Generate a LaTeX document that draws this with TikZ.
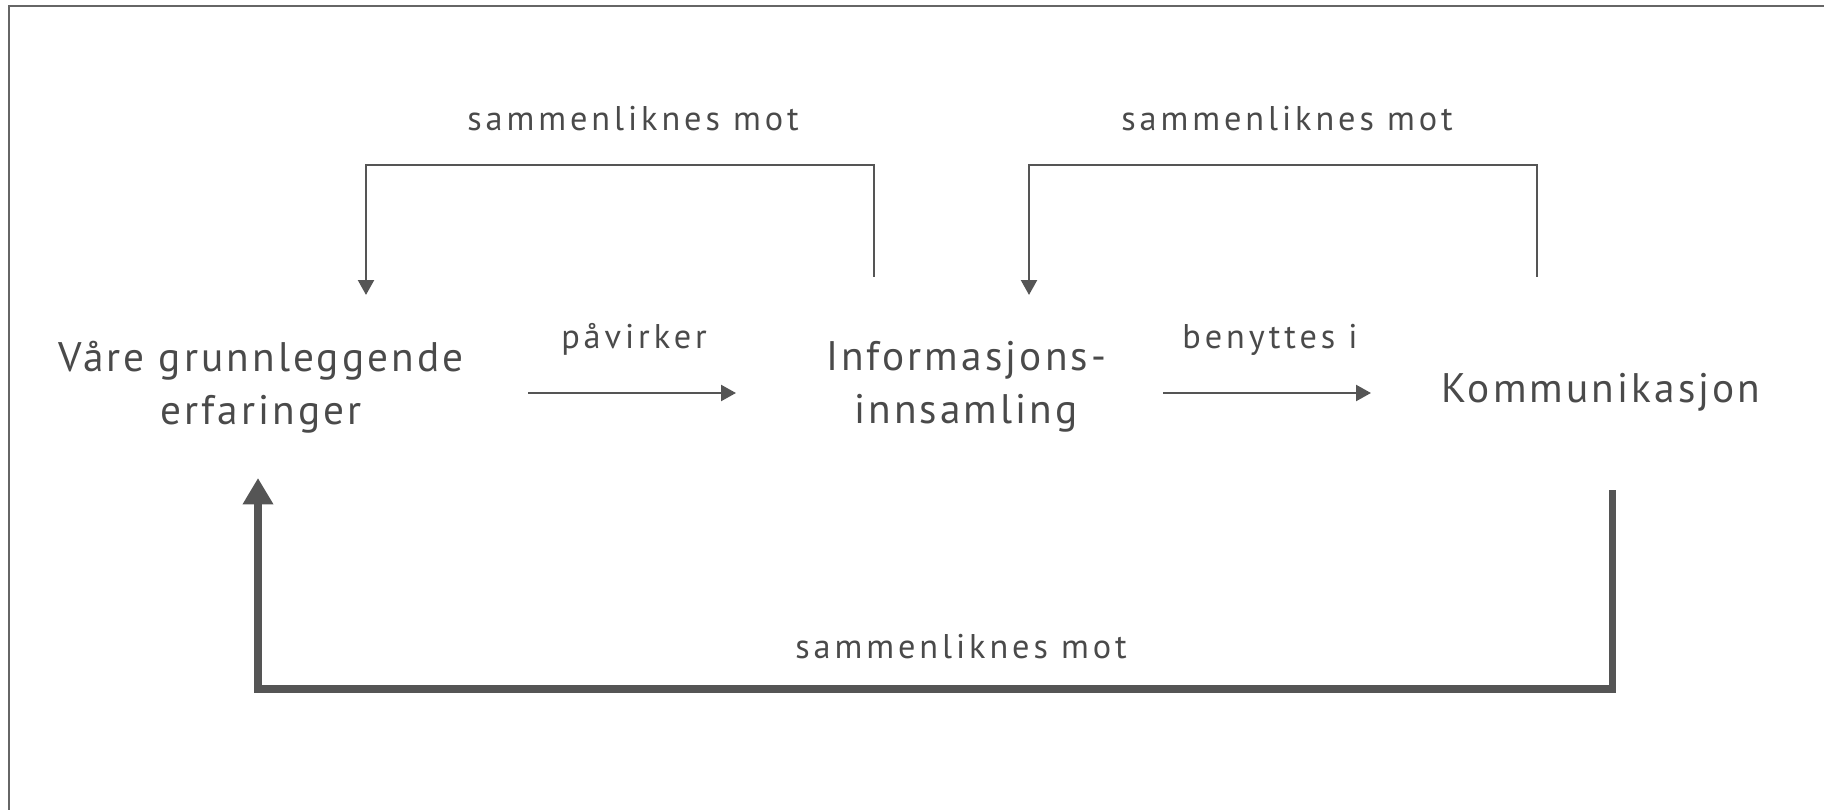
\documentclass[tikz,border=0pt]{standalone}
\usepackage{fontspec}
\setmainfont{PT Sans}
\newfontfamily\nodefont[LetterSpace=7.5]{PT Sans}
\newfontfamily\labfont[LetterSpace=11.5]{PT Sans}
\usetikzlibrary{arrows.meta}
\definecolor{ink}{HTML}{4A4A4A}
\definecolor{linec}{HTML}{555555}
\definecolor{framec}{HTML}{666666}
\tikzset{
  bignode/.style={text=ink, font=\nodefont\fontsize{23.5}{30}\selectfont, align=center, inner sep=0pt},
  labnode/.style={text=ink, font=\labfont\fontsize{19.5}{22}\selectfont, inner sep=0pt, anchor=base},
  thinarrow/.style={draw=linec, line width=1.5pt, -{Triangle[length=8.5pt,width=9pt]}},
  thickarrow/.style={draw=linec, line width=4pt, -{Triangle[length=15pt,width=16.5pt]}},
}
\begin{document}
\begin{tikzpicture}[x=0.02cm,y=-0.02cm]
\useasboundingbox (0,0) rectangle (1824,810);
\draw[framec, line width=1.5pt] (9,812) -- (9,6) -- (1826,6);

\node[bignode] (ve) at (261,387) {Våre grunnleggende\\erfaringer};
\node[bignode] (ii) at (966,387) {Informasjons-\\innsamling};
\node[bignode, anchor=base] (ko) at (1601,402) {Kommunikasjon};

\node[labnode] (l1) at (633,131) {sammenliknes mot};
\node[labnode] (l2) at (1287,131) {sammenliknes mot};
\node[labnode] (l3) at (961,658) {sammenliknes mot};
\node[labnode] (lp) at (634,349) {påvirker};
\node[labnode] (lb) at (1270,349) {benyttes i};

\coordinate (a1s) at (528,393);
\coordinate (a1e) at (736,393);
\coordinate (a2s) at (1163,393);
\coordinate (a2e) at (1371,393);
\draw[thinarrow] (a1s) -- (a1e);
\draw[thinarrow] (a2s) -- (a2e);

\coordinate (t1s) at (874,277);
\coordinate (t1e) at (366,295);
\coordinate (t2s) at (1537,277);
\coordinate (t2e) at (1029,295);
\draw[thinarrow] (t1s) -- (874,165) -| (t1e);
\draw[thinarrow] (t2s) -- (1537,165) -| (t2e);

\coordinate (bs) at (1612,490);
\coordinate (be) at (258,478);
\draw[thickarrow] (bs) -- (1612,689) -| (be);
\end{tikzpicture}
\end{document}
